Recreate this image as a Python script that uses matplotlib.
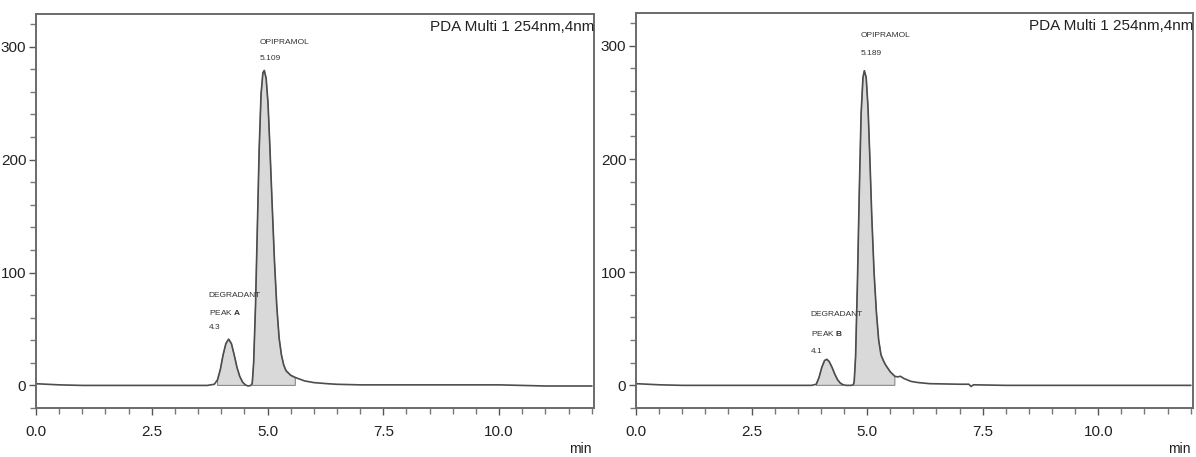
import matplotlib
matplotlib.use("Agg")
import matplotlib.pyplot as plt
from matplotlib.ticker import MultipleLocator
from matplotlib import font_manager

names = {f.name for f in font_manager.fontManager.ttflist}
FONT = "Liberation Sans Narrow" if "Liberation Sans Narrow" in names else "Liberation Sans"
plt.rcParams['font.family'] = [FONT, 'DejaVu Sans']
plt.rcParams['mathtext.fontset'] = 'custom'
plt.rcParams['mathtext.rm'] = FONT
plt.rcParams['mathtext.bf'] = FONT + ':bold'

# ---- data: left chromatogram (degradant peak A) ----
time_a = [0.0, 0.5, 1.0, 2.0, 3.0, 3.7, 3.85, 3.92, 3.98, 4.04, 4.10, 4.16, 4.22, 4.28,
          4.34, 4.40, 4.46, 4.52, 4.58, 4.64, 4.67, 4.70, 4.74, 4.78, 4.82, 4.86, 4.90,
          4.93, 4.97, 5.01, 5.05, 5.10, 5.15, 5.20, 5.25, 5.30, 5.35, 5.40, 5.50, 5.60,
          5.70, 5.80, 6.00, 6.30, 6.50, 7.0, 8.0, 10.0, 10.5, 11.0, 12.0]
signal_a = [1.5, 0.5, 0.0, 0.0, 0.0, 0.0, 1.0, 5.0, 14.0, 27.0, 37.0, 41.0, 37.0, 27.0,
            16.0, 8.0, 3.0, 0.5, -0.5, 0.0, 2.0, 20.0, 70.0, 140.0, 210.0, 258.0, 277.0,
            279.0, 272.0, 250.0, 212.0, 160.0, 110.0, 70.0, 42.0, 27.0, 18.0, 13.0, 9.0, 7.0,
            5.5, 4.0, 2.5, 1.5, 1.0, 0.5, 0.5, 0.5, 0.0, -0.5, -0.5]
fill_a = [(3.88, 4.55), (4.66, 5.62)]

# ---- data: right chromatogram (degradant peak B) ----
time_b = [0.0, 0.5, 1.0, 2.0, 3.0, 3.8, 3.90, 3.96, 4.02, 4.08, 4.13, 4.18, 4.24, 4.30,
          4.36, 4.42, 4.48, 4.55, 4.65, 4.70, 4.72, 4.75, 4.79, 4.83, 4.87, 4.91, 4.94,
          4.98, 5.02, 5.06, 5.10, 5.15, 5.20, 5.25, 5.30, 5.35, 5.40, 5.50, 5.60, 5.66,
          5.72, 5.80, 5.95, 6.10, 6.35, 7.0, 7.2, 7.25, 7.3, 8.0, 10.0, 12.0]
signal_b = [1.5, 0.5, 0.0, 0.0, 0.0, 0.0, 1.0, 7.0, 16.0, 22.0, 23.0, 21.0, 16.0, 10.0,
            5.0, 2.0, 0.5, 0.0, 0.0, 0.5, 3.0, 25.0, 90.0, 170.0, 240.0, 272.0, 278.0,
            272.0, 245.0, 200.0, 150.0, 100.0, 65.0, 40.0, 27.0, 22.0, 18.0, 12.0, 8.0, 7.5,
            8.0, 6.0, 3.5, 2.5, 1.5, 1.0, 1.0, -1.0, 0.5, 0.0, 0.0, 0.0]
fill_b = [(3.88, 4.50), (4.70, 5.62)]

# ---- labels ----
main_name = "OPIPRAMOL"
main_rt = ["5.109", "5.189"]
deg_name = "DEGRADANT"
deg_peak = ["A", "B"]
deg_rt = ["4.3", "4.1"]
detector = "PDA Multi 1 254nm,4nm"

panels = [
    dict(t=time_a, s=signal_a, fills=fill_a, rt=main_rt[0], peak=deg_peak[0], drt=deg_rt[0],
         rect=[36/1196, 1-408/457, 558/1196, 394/457],
         main_xy=(4.83, 304, 290), deg_xy=(3.73, 80, 65, 51)),
    dict(t=time_b, s=signal_b, fills=fill_b, rt=main_rt[1], peak=deg_peak[1], drt=deg_rt[1],
         rect=[636/1196, 1-408/457, 557/1196, 395/457],
         main_xy=(4.87, 309, 293), deg_xy=(3.78, 63, 46, 30)),
]

LINE = "#4d4d4d"
FILL = "#d9d9d9"
fig = plt.figure(figsize=(11.96, 4.57), dpi=100)

for p in panels:
    ax = fig.add_axes(p['rect'])
    t, s = p['t'], p['s']
    for (x0, x1) in p['fills']:
        idx = [i for i, x in enumerate(t) if x0 <= x <= x1]
        xs = [t[i] for i in idx]
        ys = [max(s[i], 0) for i in idx]
        xs = [xs[0]] + xs + [xs[-1]]
        ys = [0] + ys + [0]
        ax.fill(xs, ys, facecolor=FILL, edgecolor="#8a8a8a", linewidth=0.8, zorder=1)
    ax.plot(t, s, color=LINE, linewidth=1.2, zorder=2)

    ax.set_xlim(0, 12.05)
    ax.set_ylim(-20, 329)
    ax.xaxis.set_major_locator(MultipleLocator(2.5))
    ax.xaxis.set_minor_locator(MultipleLocator(0.5))
    ax.yaxis.set_major_locator(MultipleLocator(100))
    ax.yaxis.set_minor_locator(MultipleLocator(20))
    ax.xaxis.set_major_formatter(matplotlib.ticker.FormatStrFormatter('%.1f'))
    ax.tick_params(axis='both', which='major', direction='out', length=5, width=1,
                   color="#555555", labelsize=11, labelcolor="#222222", pad=7)
    ax.tick_params(axis='both', which='minor', direction='out', length=4, width=1,
                   color="#777777")
    ax.tick_params(axis='y', pad=2)
    for sp in ax.spines.values():
        sp.set_color("#6a6a6a")
        sp.set_linewidth(1.4)

    mx, my1, my2 = p['main_xy']
    fs = 6
    ax.text(mx, my1, main_name, fontsize=fs, color="#333333", va='center', ha='left')
    ax.text(mx, my2, p['rt'], fontsize=fs, color="#333333", va='center', ha='left')
    dx, dy1, dy2, dy3 = p['deg_xy']
    ax.text(dx, dy1, deg_name, fontsize=fs, color="#333333", va='center', ha='left')
    ax.text(dx, dy2, "PEAK $\\mathbf{" + p['peak'] + "}$", fontsize=fs, color="#333333",
            va='center', ha='left')
    ax.text(dx, dy3, p['drt'], fontsize=fs, color="#333333", va='center', ha='left')

    ax.text(1.0, 0.985, detector, transform=ax.transAxes, ha='right', va='top',
            fontsize=11, color="#222222")
    x_right = p['rect'][0] + p['rect'][2]
    fig.text(x_right - 0.002, 4/457, "min", ha='right', va='baseline',
             fontsize=10, color="#222222")

fig.savefig("out.png", dpi=100)
